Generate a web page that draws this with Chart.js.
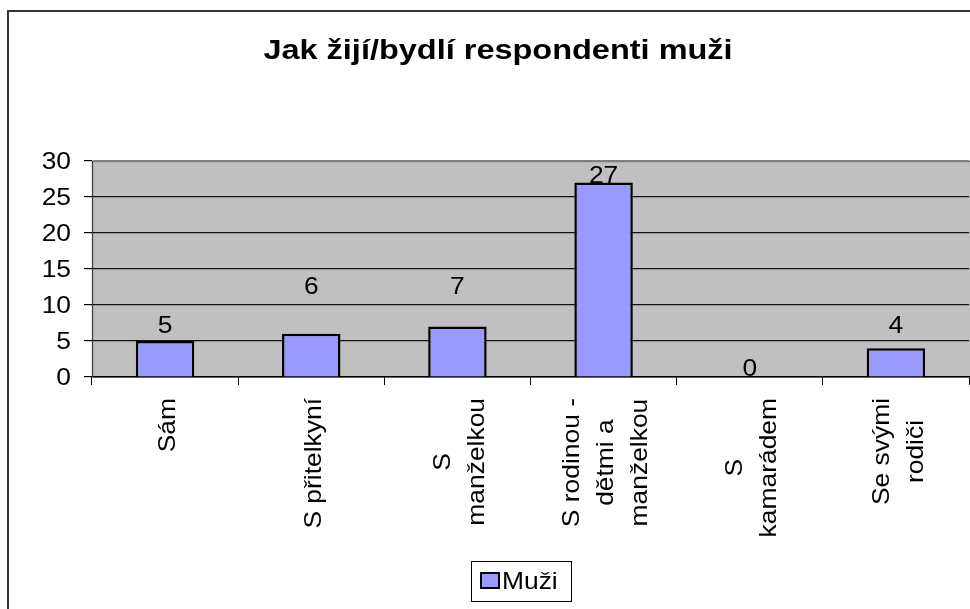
<!DOCTYPE html>
<html>
<head>
<meta charset="utf-8">
<script src="https://cdn.jsdelivr.net/npm/chart.js@4/dist/chart.umd.min.js"></script>
<style>
  body { margin: 0; background: #fff; }
  canvas { display: block; }
</style>
</head>
<body>
<canvas id="chart" width="970" height="609"></canvas>
<script>
const title = 'Jak žijí/bydlí respondenti muži';
const seriesName = 'Muži';
const categories = [
    ['Sám'],
    ['S přitelkyní'],
    ['S', 'manželkou'],
    ['S rodinou -', 'dětmi a', 'manželkou'],
    ['S', 'kamarádem'],
    ['Se svými', 'rodiči']
];
const values = [5, 6, 7, 27, 0, 4];
// where excel left each data label, in axis units
const labelAt = [7, 12.5, 12.5, 27.9, 1, 7.1];
const yTicks = [0, 5, 10, 15, 20, 25, 30];

const FONT = '"Liberation Sans", Arial, sans-serif';
const SX = 1.1; // the original text is a bit wide

function wideText(ctx, txt, x, y, sx, align) {
    ctx.save();
    ctx.translate(x, y);
    ctx.scale(sx, 1);
    ctx.textAlign = align;
    ctx.fillText(txt, 0, 0);
    ctx.restore();
}

const excelLook = {
    id: 'excelLook',
    beforeDraw(chart) {
        const ctx = chart.ctx;
        const a = chart.chartArea;
        ctx.save();
        ctx.fillStyle = '#fff';
        ctx.fillRect(0, 0, chart.width, chart.height);
        ctx.strokeStyle = '#333';
        ctx.lineWidth = 2;
        ctx.strokeRect(8, 11, 1200, 800);
        ctx.fillStyle = '#c0c0c0';
        ctx.fillRect(a.left, a.top, a.right - a.left + 5, a.bottom - a.top);
        ctx.strokeStyle = '#808080';
        ctx.lineWidth = 1.5;
        ctx.beginPath();
        ctx.moveTo(a.left + 0.5, a.bottom);
        ctx.lineTo(a.left + 0.5, a.top + 0.5);
        ctx.lineTo(chart.width, a.top + 0.5);
        ctx.stroke();
        ctx.restore();
    },
    afterDraw(chart) {
        const ctx = chart.ctx;
        const x = chart.scales.x;
        const y = chart.scales.y;
        ctx.save();
        ctx.fillStyle = '#000';

        // title
        ctx.font = 'bold 28px ' + FONT;
        ctx.textBaseline = 'alphabetic';
        wideText(ctx, title, 498, 59, 1.16, 'center');

        // y tick labels
        ctx.font = '24px ' + FONT;
        ctx.textBaseline = 'middle';
        yTicks.forEach(v => wideText(ctx, String(v), 71, y.getPixelForValue(v) + 1, SX, 'right'));

        // data labels
        const bars = chart.getDatasetMeta(0).data;
        values.forEach((v, i) => {
            wideText(ctx, String(v), bars[i].x, y.getPixelForValue(labelAt[i]), SX, 'center');
        });

        // category labels, rotated, lines centred on the longest one
        const lh = 34;
        categories.forEach((lines, i) => {
            const cx = x.getPixelForValue(i) + 3;
            const maxW = Math.max(...lines.map(l => ctx.measureText(l).width)) * SX;
            ctx.save();
            ctx.translate(cx, 398);
            ctx.rotate(-Math.PI / 2);
            lines.forEach((line, k) => {
                const off = (k - (lines.length - 1) / 2) * lh;
                wideText(ctx, line, -maxW / 2, off, SX, 'center');
            });
            ctx.restore();
        });

        // legend
        ctx.strokeStyle = '#000';
        ctx.lineWidth = 1;
        ctx.strokeRect(471.5, 561.5, 100, 40);
        ctx.fillStyle = '#9999ff';
        ctx.fillRect(481, 573, 18, 15);
        ctx.lineWidth = 2;
        ctx.strokeRect(481, 573, 18, 15);
        ctx.fillStyle = '#000';
        wideText(ctx, seriesName, 502, 582, SX, 'left');
        ctx.restore();
    }
};

new Chart(document.getElementById('chart'), {
    type: 'bar',
    data: {
        labels: categories,
        datasets: [{
            label: seriesName,
            data: values,
            backgroundColor: '#9999ff',
            borderColor: '#000',
            borderWidth: 2.5,
            barPercentage: 0.4,
            categoryPercentage: 1
        }]
    },
    options: {
        responsive: false,
        animation: false,
        layout: { padding: { top: 161, left: 0, right: 1, bottom: 0 } },
        plugins: {
            legend: { display: false },
            title: { display: false },
            tooltip: { enabled: false }
        },
        scales: {
            x: {
                afterFit: s => { s.height = 232; },
                ticks: { display: false },
                grid: {
                    offset: true,
                    drawOnChartArea: false,
                    drawTicks: true,
                    tickLength: 8,
                    tickColor: '#000'
                },
                border: { color: '#000', width: 1.5 }
            },
            y: {
                min: 0,
                max: 30,
                afterFit: s => { s.width = 92; },
                ticks: { display: false, stepSize: 5 },
                grid: {
                    color: c => c.tick && c.tick.value === 30 ? '#808080' : '#111',
                    lineWidth: 1.2,
                    tickColor: '#000',
                    tickLength: 8
                },
                border: { color: '#404040', width: 1 }
            }
        }
    },
    plugins: [excelLook]
});
</script>
</body>
</html>
